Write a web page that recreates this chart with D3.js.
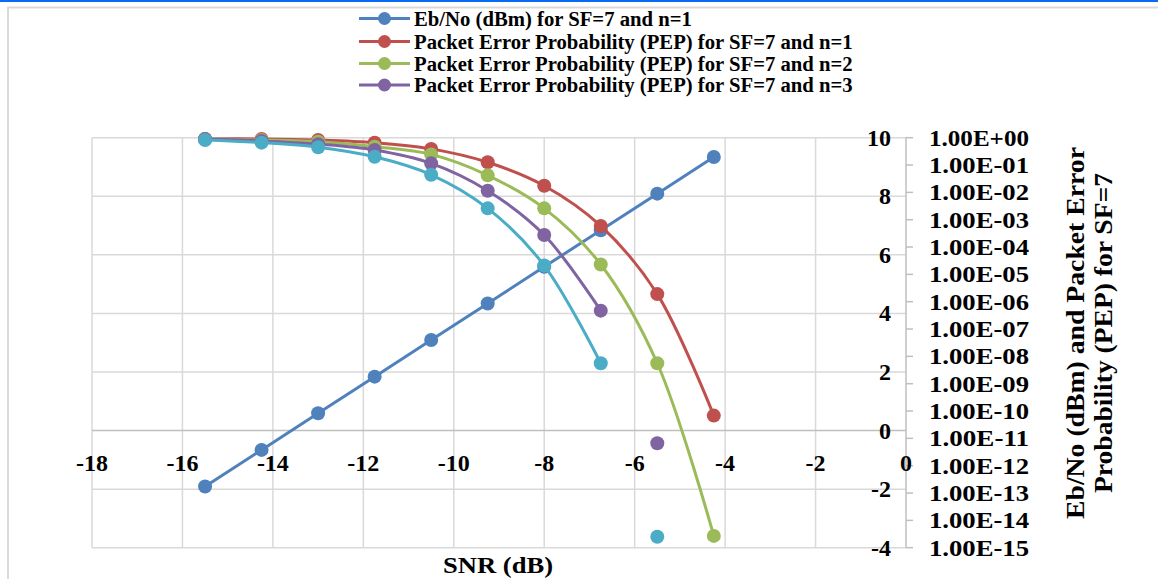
<!DOCTYPE html>
<html><head><meta charset="utf-8">
<script src="https://cdn.jsdelivr.net/npm/d3@7"></script>
<style>
html,body{margin:0;padding:0;background:#fff;}
svg{display:block;}
text{font-family:"Liberation Serif","DejaVu Serif",serif;font-weight:bold;fill:#000;}
</style></head>
<body>
<script>
// ---- data ----
const snr = [-15.5, -14.25, -13, -11.75, -10.5, -9.25, -8, -6.75, -5.5, -4.25];
const ebno = [-1.91, -0.66, 0.59, 1.84, 3.09, 4.34, 5.59, 6.84, 8.09, 9.34];
const pepN1 = [0.9, 0.9, 0.82, 0.66, 0.39, 0.126, 0.0174, 5.9e-4, 1.9e-6, 6.8e-11];
const pepN2 = [0.89, 0.82, 0.71, 0.47, 0.245, 0.042, 2.6e-3, 2.3e-5, 5.6e-9, 2.7e-15];
const pepN3 = [0.89, 0.76, 0.58, 0.355, 0.115, 0.0115, 2.75e-4, 4.7e-7, 6.6e-12, null];
const pepN4 = [0.82, 0.66, 0.45, 0.2, 0.044, 2.6e-3, 2.1e-5, 5.6e-9, 2.5e-15, null];
const seriesNames = [
  "Eb/No (dBm) for SF=7 and n=1",
  "Packet Error Probability (PEP) for SF=7 and n=1",
  "Packet Error Probability (PEP) for SF=7 and n=2",
  "Packet Error Probability (PEP) for SF=7 and n=3",
  null
];
const linkedCount = [10, 10, 10, 8, 8];   // points joined by the line; later points are unconnected markers
const xTicks = [-18, -16, -14, -12, -10, -8, -6, -4, -2, 0];
const yTicks = [-4, -2, 0, 2, 4, 6, 8, 10];
const y2Ticks = ["1.00E+00","1.00E-01","1.00E-02","1.00E-03","1.00E-04","1.00E-05","1.00E-06","1.00E-07",
                 "1.00E-08","1.00E-09","1.00E-10","1.00E-11","1.00E-12","1.00E-13","1.00E-14","1.00E-15"];
const colors = ["#4F81BD", "#C0504D", "#9BBB59", "#8064A2", "#4BACC6"];

const W = 1158, H = 579;
const svg = d3.select("body").append("svg").attr("width", W).attr("height", H);

// frame
svg.append("line").attr("x1",0).attr("x2",W).attr("y1",1).attr("y2",1).attr("stroke","#0A6CF5").attr("stroke-width",2);
svg.append("line").attr("x1",7).attr("x2",W).attr("y1",7.5).attr("y2",7.5).attr("stroke","#D9D9D9").attr("stroke-width",2);
svg.append("line").attr("x1",8).attr("x2",8).attr("y1",7).attr("y2",H).attr("stroke","#D9D9D9").attr("stroke-width",2);

const L = 92, R = 906, T = 137.7, B = 547.7;
const x = d3.scaleLinear().domain([-18, 0]).range([L, R]);
const y = d3.scaleLinear().domain([-4, 10]).range([B, T]);
const y2 = d3.scaleLog().domain([1e-15, 1]).range([B, T]);

// gridlines
const g = svg.append("g");
g.selectAll(".vg").data(xTicks.filter(d => d !== 0)).enter().append("line")
  .attr("x1", d => x(d)).attr("x2", d => x(d)).attr("y1", T).attr("y2", B)
  .attr("stroke", "#D9D9D9").attr("stroke-width", 1.5);
g.selectAll(".hg").data(yTicks.filter(d => d !== 0)).enter().append("line")
  .attr("x1", L).attr("x2", R).attr("y1", d => y(d)).attr("y2", d => y(d))
  .attr("stroke", "#D9D9D9").attr("stroke-width", 1.5);
// axis lines
g.append("line").attr("x1", L).attr("x2", R).attr("y1", y(0)).attr("y2", y(0)).attr("stroke", "#BFBFBF").attr("stroke-width", 1.5);
g.append("line").attr("x1", R).attr("x2", R).attr("y1", T).attr("y2", B).attr("stroke", "#BFBFBF").attr("stroke-width", 1.5);
// secondary ticks
g.selectAll(".t2").data(y2Ticks).enter().append("line")
  .attr("x1", R).attr("x2", R + 7).attr("y1", d => y2(+d)).attr("y2", d => y2(+d))
  .attr("stroke", "#BFBFBF").attr("stroke-width", 1.5);

// labels
svg.selectAll(".xl").data(xTicks).enter().append("text")
  .attr("x", d => x(d)).attr("y", 463).attr("text-anchor", "middle").attr("dominant-baseline", "central")
  .style("font-size", "24px").text(d => d);
svg.selectAll(".yl").data(yTicks).enter().append("text")
  .attr("x", 891).attr("y", d => y(d)).attr("text-anchor", "end").attr("dominant-baseline", "central")
  .style("font-size", "24px").text(d => d);
svg.selectAll(".y2l").data(y2Ticks).enter().append("text")
  .attr("x", 929).attr("y", d => y2(+d)).attr("text-anchor", "start").attr("dominant-baseline", "central")
  .style("font-size", "24px").attr("textLength", 100).attr("lengthAdjust", "spacingAndGlyphs").text(d => d);

svg.append("text").attr("x", 498).attr("y", 565).attr("text-anchor", "middle").attr("dominant-baseline", "central")
  .style("font-size", "24px").attr("textLength", 110).attr("lengthAdjust", "spacingAndGlyphs").text("SNR (dB)");
const rt = svg.append("text").attr("transform", "translate(1075,333) rotate(-90)").attr("text-anchor", "middle")
  .style("font-size", "25px");
rt.append("tspan").attr("x", 0).attr("dy", "0.35em").attr("textLength", 372).attr("lengthAdjust", "spacingAndGlyphs").text("Eb/No (dBm) and Packet Error");
rt.append("tspan").attr("x", 0).attr("dy", 28).attr("textLength", 320).attr("lengthAdjust", "spacingAndGlyphs").text("Probability (PEP) for SF=7");

// series
const allSeries = [
  {vals: ebno, sy: y},
  {vals: pepN1, sy: y2},
  {vals: pepN2, sy: y2},
  {vals: pepN3, sy: y2},
  {vals: pepN4, sy: y2}
];
allSeries.forEach((s, i) => {
  const pts = snr.map((v, k) => ({x: v, y: s.vals[k], k})).filter(p => p.y != null);
  const linked = pts.filter(p => p.k < linkedCount[i]);
  const line = d3.line().x(p => x(p.x)).y(p => s.sy(p.y))
    .curve(i === 0 ? d3.curveLinear : d3.curveCatmullRom.alpha(0.5));
  svg.append("path").datum(linked).attr("d", line).attr("fill", "none")
    .attr("stroke", colors[i]).attr("stroke-width", 3).attr("stroke-linejoin", "round");
  svg.selectAll(".m" + i).data(pts).enter().append("circle")
    .attr("cx", p => x(p.x)).attr("cy", p => s.sy(p.y)).attr("r", 7).attr("fill", colors[i]);
});

// legend
const legY = [18.5, 41.5, 63.5, 85];
seriesNames.forEach((n, i) => {
  if (!n) return;
  const lg = svg.append("g");
  lg.append("line").attr("x1", 359).attr("x2", 410).attr("y1", legY[i]).attr("y2", legY[i])
    .attr("stroke", colors[i]).attr("stroke-width", 3);
  lg.append("circle").attr("cx", 384.5).attr("cy", legY[i]).attr("r", 6.5).attr("fill", colors[i]);
  lg.append("text").attr("x", 414).attr("y", legY[i]).attr("dominant-baseline", "central")
    .style("font-size", "20.7px").text(n);
});
</script>
</body></html>
